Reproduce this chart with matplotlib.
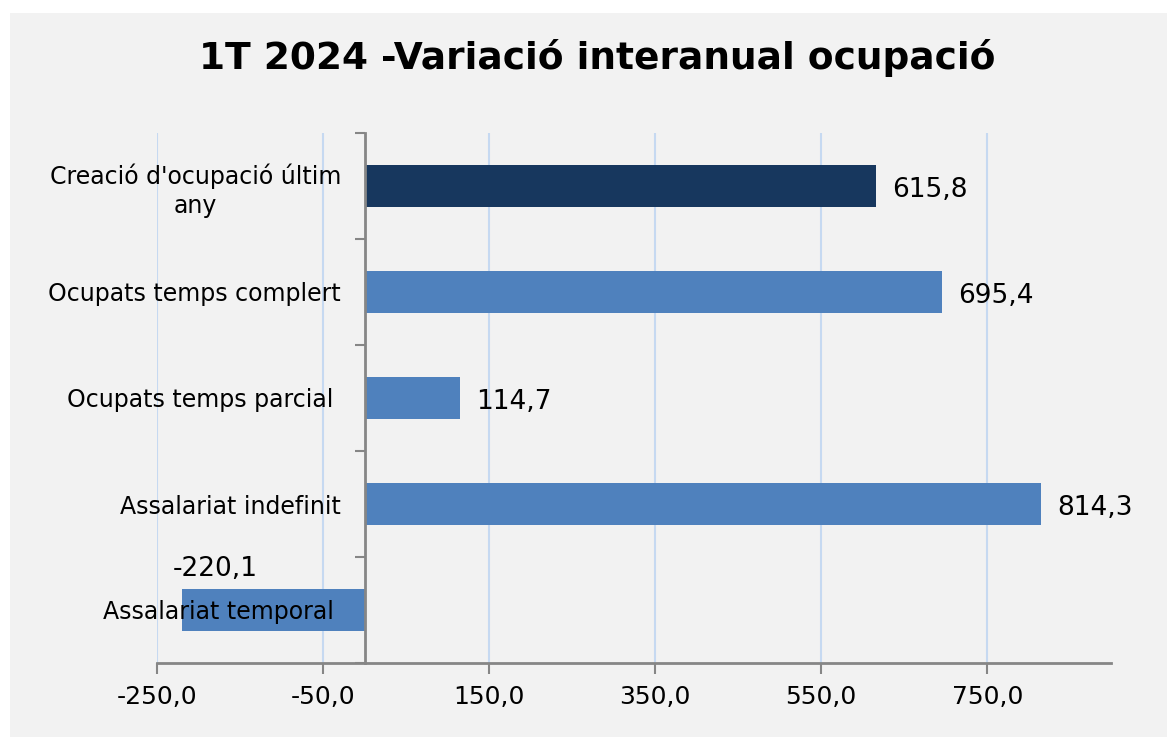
import matplotlib.pyplot as plt
from matplotlib.patches import Rectangle
from matplotlib.ticker import FuncFormatter, FixedLocator

# ==== Dades ====
categories = ["Creació d'ocupació últim\nany", "Ocupats temps complert",
              "Ocupats temps parcial ", "Assalariat indefinit",
              "Assalariat temporal "]
values = [615.8, 695.4, 114.7, 814.3, -220.1]
bar_colors = ["#17375E", "#4F81BD", "#4F81BD", "#4F81BD", "#4F81BD"]
xticks = [-250, -50, 150, 350, 550, 750]

plt.rcParams['font.family'] = ['DejaVu Sans']

fig = plt.figure(figsize=(11.67, 7.37), dpi=100, facecolor="white")
# panell gris de fons
fig.patches.append(Rectangle((10 / 1167, 0), 1, 1 - 13 / 737, transform=fig.transFigure,
                             facecolor="#F2F2F2", edgecolor="none", zorder=-10))

ax = fig.add_axes([157 / 1167, 1 - 663 / 737, (1111 - 157) / 1167, (663 - 133) / 737])
ax.patch.set_alpha(0)

pos = list(range(len(categories)))
# línies de graella sota les barres
for t in xticks:
    ax.axvline(t, color="#C6D9F1", linewidth=1.5, zorder=0)
ax.barh(pos, values, height=0.4, color=bar_colors, zorder=1)

ax.set_xlim(-250, 899)
ax.set_ylim(len(categories) - 0.5, -0.5)

ax.xaxis.set_major_locator(FixedLocator(xticks))
ax.xaxis.set_major_formatter(FuncFormatter(lambda v, p: f"{v:.1f}".replace('.', ',')))

# eix vertical a x = 0
ax.spines['left'].set_position(('data', 0))
for s in ['top', 'right']:
    ax.spines[s].set_visible(False)
for s in ['left', 'bottom']:
    ax.spines[s].set_color("#868686")
    ax.spines[s].set_linewidth(2)

ax.set_yticks(pos)
ax.set_yticklabels(categories, fontsize=17, multialignment='center', linespacing=1.25)
ax.tick_params(axis='y', which='major', length=0, pad=17)
ax.set_yticks([p - 0.5 for p in pos] + [len(pos) - 0.5], minor=True)
ax.tick_params(axis='y', which='minor', length=7, width=1.5, color="#868686", direction='out')
ax.tick_params(axis='x', length=8, width=1.5, color="#868686", labelsize=18, pad=8)

# etiquetes de valor
for p, v in zip(pos, values):
    txt = f"{v:.1f}".replace('.', ',')
    if v >= 0:
        ax.annotate(txt, (v, p), xytext=(12, -3), textcoords='offset points',
                    ha='left', va='center', fontsize=19)
    else:
        ax.annotate(txt, (v, p), xytext=(24, 20), textcoords='offset points',
                    ha='center', va='bottom', fontsize=19)

fig.text(597 / 1167, 1 - 58 / 737, "1T 2024 -Variació interanual ocupació",
         ha='center', va='center', fontsize=27, fontweight='bold')

fig.savefig("out.png", dpi=100, facecolor=fig.get_facecolor())
